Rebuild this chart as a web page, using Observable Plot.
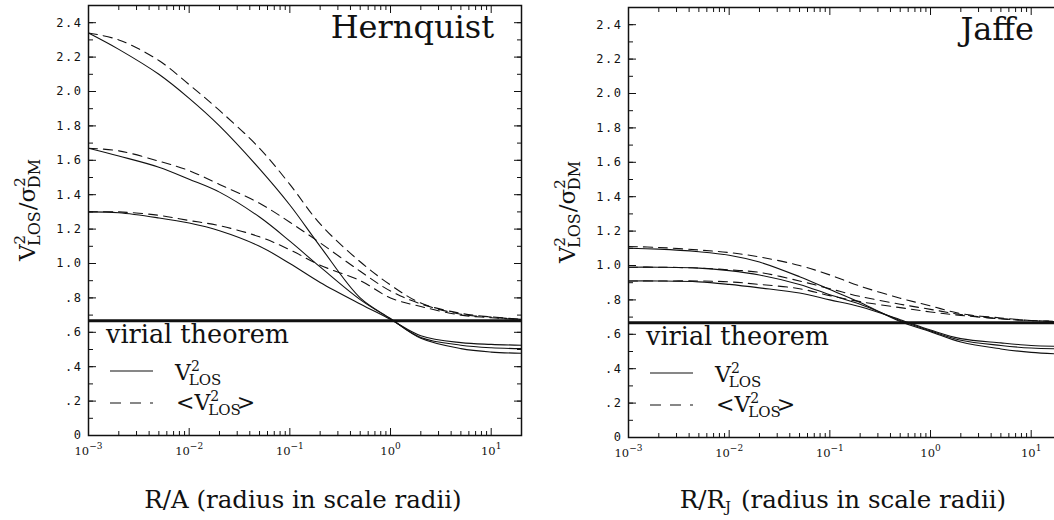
<!DOCTYPE html>
<html>
<head>
<meta charset="utf-8">
<script src="https://cdn.jsdelivr.net/npm/d3@7"></script>
<script src="https://cdn.jsdelivr.net/npm/@observablehq/plot@0.6"></script>
<style>
  html, body { margin: 0; padding: 0; background: #fff; }
  #fig { position: relative; width: 1054px; height: 520px; overflow: hidden; background: #fff; }
  #fig svg { position: absolute; }
</style>
</head>
<body>
<div id="fig"></div>
<script>
// Projected radius (in scale radii) at which each profile is sampled
const radii = [0.001, 0.002, 0.005, 0.01, 0.02, 0.05, 0.1, 0.2, 0.5, 1, 2, 5, 10, 20];

// Hernquist model: local V²_LOS / σ²_DM (solid) for three cases
const hernquistLosA = [2.34, 2.245, 2.10, 1.96, 1.80, 1.55, 1.34, 1.10, 0.80, 0.68, 0.565, 0.505, 0.485, 0.478];
const hernquistLosB = [1.67, 1.625, 1.56, 1.49, 1.415, 1.27, 1.13, 0.98, 0.79, 0.678, 0.57, 0.525, 0.51, 0.505];
const hernquistLosC = [1.30, 1.295, 1.265, 1.235, 1.19, 1.10, 1.00, 0.89, 0.765, 0.675, 0.58, 0.54, 0.53, 0.525];
// Hernquist model: aperture average <V²_LOS> / σ²_DM (dashed)
const hernquistAvgA = [2.34, 2.30, 2.18, 2.04, 1.89, 1.67, 1.46, 1.23, 1.01, 0.875, 0.77, 0.71, 0.69, 0.675];
const hernquistAvgB = [1.67, 1.655, 1.595, 1.54, 1.46, 1.35, 1.24, 1.12, 0.955, 0.84, 0.765, 0.705, 0.688, 0.675];
const hernquistAvgC = [1.30, 1.30, 1.28, 1.25, 1.22, 1.155, 1.08, 0.99, 0.90, 0.80, 0.75, 0.70, 0.685, 0.673];

// Jaffe model: local V²_LOS / σ²_DM (solid)
const jaffeLosA = [1.10, 1.095, 1.08, 1.06, 1.02, 0.935, 0.86, 0.785, 0.675, 0.615, 0.555, 0.515, 0.495, 0.485];
const jaffeLosB = [0.99, 0.99, 0.985, 0.97, 0.945, 0.89, 0.83, 0.775, 0.68, 0.62, 0.565, 0.535, 0.52, 0.515];
const jaffeLosC = [0.91, 0.91, 0.905, 0.89, 0.87, 0.84, 0.80, 0.76, 0.685, 0.625, 0.575, 0.55, 0.535, 0.53];
// Jaffe model: aperture average (dashed)
const jaffeAvgA = [1.11, 1.105, 1.09, 1.075, 1.05, 1.00, 0.945, 0.88, 0.81, 0.765, 0.72, 0.695, 0.68, 0.675];
const jaffeAvgB = [0.99, 0.99, 0.985, 0.975, 0.96, 0.91, 0.865, 0.82, 0.775, 0.745, 0.715, 0.69, 0.68, 0.675];
const jaffeAvgC = [0.91, 0.91, 0.91, 0.905, 0.89, 0.865, 0.825, 0.79, 0.755, 0.73, 0.71, 0.69, 0.68, 0.672];

// Virial theorem value of V²_LOS / σ²_DM
const virialRatio = [2 / 3];

// Axis ticks and their labels
const yTickValues = [0, 0.2, 0.4, 0.6, 0.8, 1.0, 1.2, 1.4, 1.6, 1.8, 2.0, 2.2, 2.4];
const yTickLabels = ["0", ".2", ".4", ".6", ".8", "1.0", "1.2", "1.4", "1.6", "1.8", "2.0", "2.2", "2.4"];
const xTickValues = [1e-3, 1e-2, 1e-1, 1, 10];
const xTickExponents = ["\u22123", "\u22122", "\u22121", "0", "1"];

const yMinorTicks = d3.range(0, 26).map(i => i / 10);
const xMinorTicks = [];
for (let e = -3; e <= 1; e++) for (let k = 2; k <= 9; k++) {
  const v = k * Math.pow(10, e);
  if (v < 20) xMinorTicks.push(v);
}

const ink = "#111";
const serif = "'DejaVu Serif', serif";
const yLabelOf = new Map(yTickValues.map((v, i) => [v.toFixed(1), yTickLabels[i]]));
const xExpOf = new Map(xTickValues.map((v, i) => [String(v), xTickExponents[i]]));

function rows(series) {
  return series.flatMap(([name, values]) => values.map((v, i) => ({r: radii[i], v, name})));
}

// Rich text with sub/superscripts: parts = [text, size, baselineShift, dx]
function rich(sel, parts) {
  let prev = 0;
  for (const [t, size, shift = 0, dx = 0] of parts) {
    sel.append("tspan")
      .attr("font-size", size)
      .attr("dy", shift - prev)
      .attr("dx", dx)
      .text(t);
    prev = shift;
  }
  return sel;
}

function panel({solid, dashed, title, xTitle, left, top}) {
  const empty = () => "";
  const svg = Plot.plot({
    width: 540,
    height: 520,
    marginLeft: 88,
    marginRight: 19,
    marginTop: 5,
    marginBottom: 85,
    style: {fontFamily: "'DejaVu Sans Mono', monospace", fontSize: "12px", color: ink, background: "transparent", overflow: "visible"},
    x: {type: "log", domain: [1e-3, 20]},
    y: {domain: [0, 2.5]},
    marks: [
      Plot.ruleY(virialRatio, {stroke: ink, strokeWidth: 3}),
      Plot.line(rows(dashed), {x: "r", y: "v", z: "name", curve: "catmull-rom", stroke: ink, strokeWidth: 1.1, strokeDasharray: "9,6"}),
      Plot.line(rows(solid), {x: "r", y: "v", z: "name", curve: "catmull-rom", stroke: ink, strokeWidth: 1.1}),
      // left axis: labelled ticks every 0.2, minor ticks every 0.1, all pointing inward
      Plot.axisY(yTickValues, {anchor: "left", tickSize: -8, tickPadding: 14, tickFormat: d => yLabelOf.get(d.toFixed(1)), label: null, fontSize: 12}),
      Plot.axisY(yMinorTicks, {anchor: "left", tickSize: -5, tickFormat: empty, label: null}),
      // mirrored ticks on the right edge
      Plot.axisY(yTickValues, {anchor: "right", tickSize: -8, tickFormat: empty, label: null}),
      Plot.axisY(yMinorTicks, {anchor: "right", tickSize: -5, tickFormat: empty, label: null}),
      // bottom and top log axes
      Plot.axisX(xTickValues, {anchor: "bottom", tickSize: -7, tickPadding: 18, tickFormat: d => "10" + xExpOf.get(String(d)), label: null, fontSize: 12}),
      Plot.axisX(xMinorTicks, {anchor: "bottom", tickSize: -4, tickFormat: empty, label: null}),
      Plot.axisX(xTickValues, {anchor: "top", tickSize: -7, tickFormat: empty, label: null}),
      Plot.axisX(xMinorTicks, {anchor: "top", tickSize: -4, tickFormat: empty, label: null}),
      Plot.frame({stroke: ink, strokeWidth: 1.5})
    ]
  });
  svg.style.left = left + "px";
  svg.style.top = top + "px";
  document.getElementById("fig").appendChild(svg);

  const s = d3.select(svg);
  s.selectAll("[aria-label='y-axis tick label'] text").attr("letter-spacing", 1.5);
  // decade labels: "10" with the exponent raised as a superscript
  s.selectAll("[aria-label='x-axis tick label'] text").each(function () {
    const t = this.textContent;
    if (!t.startsWith("10")) return;
    const el = d3.select(this).text(null)
      .attr("font-family", serif).attr("font-size", 11.5);
    el.append("tspan").text("10");
    el.append("tspan").attr("font-size", 9).attr("dy", -6).text(t.slice(2));
  });

  const g = s.append("g").attr("fill", ink).attr("font-family", serif).attr("text-anchor", "start");

  // model name
  g.append("text").attr("x", 494).attr("y", 38).attr("text-anchor", "end")
    .attr("font-size", 32).text(title);

  // legend
  g.append("text").attr("x", 106).attr("y", 343).attr("font-size", 25.5).text("virial theorem");
  g.append("line").attr("x1", 110).attr("x2", 153).attr("y1", 371).attr("y2", 371)
    .attr("stroke", ink).attr("stroke-width", 1.1);
  rich(g.append("text").attr("x", 175).attr("y", 380),
    [["V", 22], ["2", 14, -9], ["LOS", 15, 5, -11]]);
  g.append("line").attr("x1", 110).attr("x2", 153).attr("y1", 403).attr("y2", 403)
    .attr("stroke", ink).attr("stroke-width", 1.1).attr("stroke-dasharray", "11,9");
  rich(g.append("text").attr("x", 176).attr("y", 410),
    [["<", 22], ["V", 22], ["2", 14, -9], ["LOS", 15, 5, -11], [">", 22, 0, -4]]);

  // y-axis title, rotated
  rich(g.append("text").attr("transform", "translate(35,210) rotate(-90)").attr("text-anchor", "middle"),
    [["V", 23], ["2", 15, -10], ["LOS", 16, 5, -11], ["/", 23, 0, 1], ["\u03C3", 23], ["2", 15, -10], ["DM", 16, 5, -11]]);

  // x-axis title
  rich(g.append("text").attr("x", 303).attr("y", 508 - top).attr("text-anchor", "middle"), xTitle);
}

panel({
  solid: [["A", hernquistLosA], ["B", hernquistLosB], ["C", hernquistLosC]],
  dashed: [["A", hernquistAvgA], ["B", hernquistAvgB], ["C", hernquistAvgC]],
  title: "Hernquist",
  xTitle: [["R/A (radius in scale radii)", 24.5]],
  left: 0, top: 0
});

panel({
  solid: [["A", jaffeLosA], ["B", jaffeLosB], ["C", jaffeLosC]],
  dashed: [["A", jaffeAvgA], ["B", jaffeAvgB], ["C", jaffeAvgC]],
  title: "Jaffe",
  xTitle: [["R/R", 24.5], ["J", 15, 4], ["(radius in scale radii)", 24.5, 0, 10]],
  left: 540, top: 2
});
</script>
</body>
</html>
